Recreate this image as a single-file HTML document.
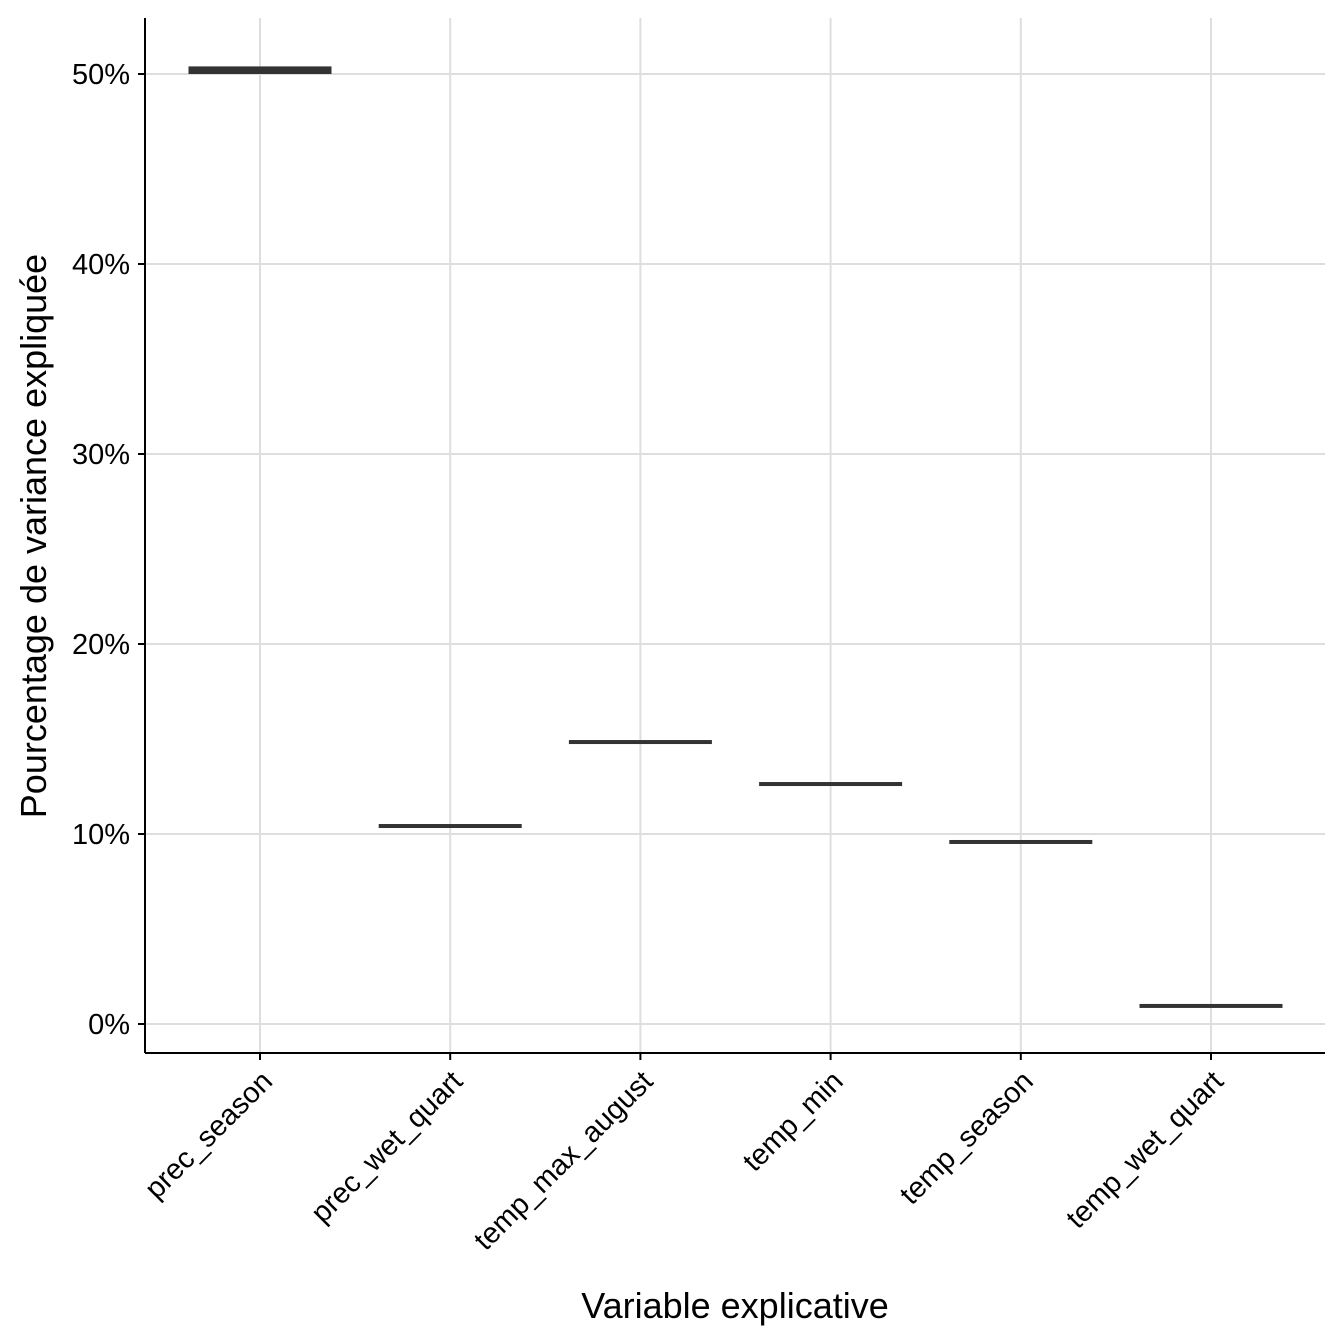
<!DOCTYPE html>
<html><head><meta charset="utf-8"><style>
body{margin:0;background:#fff;}
svg{display:block;font-family:"Liberation Sans",Arial,sans-serif;}
</style></head><body>
<svg id="chart" width="1344" height="1344" viewBox="0 0 1344 1344" xmlns="http://www.w3.org/2000/svg">
<g id="grid"></g>
<g id="marks"></g>
<g id="axes"></g>
<text x="735" y="1318" font-size="36" text-anchor="middle" fill="#000">Variable explicative</text>
<text transform="translate(46,536) rotate(-90)" font-size="36" text-anchor="middle" fill="#000">Pourcentage de variance expliquée</text>
</svg>
<script>
const categories=["prec_season","prec_wet_quart","temp_max_august","temp_min","temp_season","temp_wet_quart"];
const q1Values=[50.0,10.38,14.78,12.58,9.53,0.92];
const medianValues=[50.2,10.42,14.84,12.63,9.58,0.95];
const q3Values=[50.4,10.46,14.9,12.68,9.63,0.98];
const yTicks=[0,10,20,30,40,50];
const yTickLabels=["0%","10%","20%","30%","40%","50%"];
const NS="http://www.w3.org/2000/svg";
const L=145,R=1325,T=18,B=1053;
const y=v=>1024-v*19;
const x=i=>260+i*190.2;
const grid=document.getElementById('grid'),marks=document.getElementById('marks'),axes=document.getElementById('axes');
function mk(tag,attrs,parent){const e=document.createElementNS(NS,tag);for(const k in attrs)e.setAttribute(k,attrs[k]);parent.appendChild(e);return e;}
yTicks.forEach((t,i)=>{
 const g=mk('line',{x1:L,x2:R,y1:y(t),y2:y(t),stroke:'#dedede','stroke-width':2},grid);
 
 
 const tk=mk('line',{x1:L-7,x2:L,y1:y(t),y2:y(t),stroke:'#000','stroke-width':2},axes);
 
 
 const lb=mk('text',{x:L-15,y:y(t)+10,'font-size':29,'text-anchor':'end',fill:'#000'},axes);
 lb.textContent=yTickLabels[i];
 
 
});
categories.forEach((c,i)=>{
 const g=mk('line',{x1:x(i),x2:x(i),y1:T,y2:B,stroke:'#dedede','stroke-width':2},grid);
 
 
 const w=143;
 const top=Math.min(y(q3Values[i]),y(medianValues[i])-2), bot=Math.max(y(q1Values[i]),y(medianValues[i])+2);
 const r=mk('rect',{x:x(i)-w/2,y:top,width:w,height:bot-top,fill:'#333'},marks);
 
 
 const tk=mk('line',{x1:x(i),x2:x(i),y1:B,y2:B+7,stroke:'#000','stroke-width':2},axes);
 
 
 const lb=mk('text',{transform:`translate(${x(i)+14},${B+30}) rotate(-45)`,'font-size':29,'text-anchor':'end',fill:'#000'},axes);
 lb.textContent=c;
 
 
});
const ya=mk('line',{x1:L,x2:L,y1:T,y2:B,stroke:'#000','stroke-width':2},axes);


const xa=mk('line',{x1:L,x2:R,y1:B,y2:B,stroke:'#000','stroke-width':2},axes);


</script>
</body></html>
